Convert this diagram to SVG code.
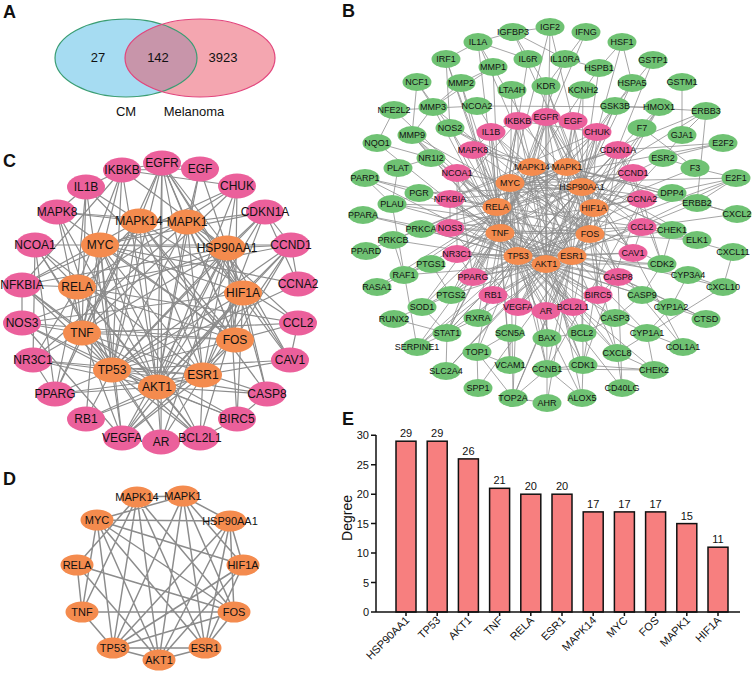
<svg xmlns="http://www.w3.org/2000/svg" width="754" height="674" viewBox="0 0 754 674">
<style>
text{font-family:"Liberation Sans",Arial,sans-serif;fill:#111}
.lbl{font-size:18px;font-weight:bold}
.n text{text-anchor:middle;dominant-baseline:central}
.B text{font-size:9px}
.C text{font-size:12px}
.D text{font-size:11px}
.g ellipse{fill:#6fc273}
.p ellipse{fill:#eb609b}
.o ellipse{fill:#f48b4e}
.eB{fill:none;stroke:#8e8e8e;stroke-width:0.8}
.eC{fill:none;stroke:#8c8c8c;stroke-width:1.2}
.eD{fill:none;stroke:#8c8c8c;stroke-width:1.5}
.vt{font-size:13px;text-anchor:middle}
.ax{fill:none;stroke:#111;stroke-width:1.5}
.bar{fill:#f77f7f;stroke:#111;stroke-width:1.5}
.tk{font-size:11px;text-anchor:end}
.vl{font-size:11px;text-anchor:middle}
</style>

<!-- Panel labels -->
<text class="lbl" x="3" y="18">A</text>
<text class="lbl" x="342" y="17">B</text>
<text class="lbl" x="3" y="167">C</text>
<text class="lbl" x="3" y="485">D</text>
<text class="lbl" x="342" y="425">E</text>

<!-- Panel A: Venn -->
<g id="venn">
<ellipse cx="126" cy="58" rx="71" ry="39" fill="#a6dcf2"/>
<ellipse cx="200" cy="58" rx="75" ry="39" fill="#e94d61" fill-opacity="0.5"/>
<ellipse cx="126" cy="58" rx="71" ry="39" fill="none" stroke="#3a9d73" stroke-width="1.2"/>
<ellipse cx="200" cy="58" rx="75" ry="39" fill="none" stroke="#e2457c" stroke-width="1.2"/>
<text class="vt" x="98" y="62">27</text>
<text class="vt" x="158" y="62">142</text>
<text class="vt" x="223" y="62">3923</text>
<text class="vt" x="126" y="116">CM</text>
<text class="vt" x="194" y="116">Melanoma</text>
</g>

<!-- Panel B connectors -->
<g id="edges-B" class="eB">
<path d="M532 167L567 167M510 183L582 187M510 183L567 167M510 183L594 208M510 183L590 234M510 183L572 256M510 183L518 256M510 183L546 264M510 183L500 233M497 207L590 234M497 207L500 233M497 207L532 167M497 207L546 264M500 233L590 234M500 233L532 167M500 233L518 256M518 256L572 256M518 256L546 264M546 264L572 256M582 187L518 256M582 187L546 264M582 187L572 256M582 187L594 208M582 187L590 234M582 187L567 167M532 167L518 256M532 167L546 264M532 167L572 256M532 167L590 234M567 167L518 256M567 167L572 256M567 167L590 234M567 167L594 208M594 208L518 256M594 208L546 264M594 208L572 256M590 234L572 256M590 234L518 256M567 167L546 264"/>
<path d="M518 256L518 121M518 256L546 117M518 256L491 132M518 256L473 150M518 256L618 150M518 256L457 173M518 256L633 173M518 256L450 199M518 256L642 199M518 256L450 228M518 256L457 254M518 256L633 253M518 256L473 277M518 256L618 277M518 256L493 295M518 256L598 295M518 256L518 307M518 256L546 311M518 256L573 307M518 256L615 106M518 256L659 107M518 256L365 178M518 256L421 229M518 256L422 307M518 256L447 333M518 256L478 318M518 256L477 352M518 256L547 338M518 256L582 333M518 256L547 369M518 256L583 365M518 256L662 264M518 256L672 230M518 256L654 370M518 256L615 318M518 256L642 295M518 256L461 83M518 256L412 135M518 256L417 347M518 256L451 295M518 256L377 143M518 256L736 178M518 256L513 398M518 256L446 59"/>
<path d="M582 187L518 121M582 187L546 117M582 187L573 121M582 187L597 132M582 187L618 150M582 187L633 173M582 187L457 254M582 187L633 253M582 187L618 277M582 187L546 311M582 187L598 295M582 187L450 228M582 187L450 199M582 187L518 307M582 187L599 68M582 187L632 83M582 187L622 42M582 187L546 86M582 187L697 203M582 187L706 111M582 187L615 106M582 187L583 90M582 187L419 193M582 187L583 365M582 187L672 230M582 187L582 333M582 187L404 275M582 187L421 229M582 187L447 333"/>
<path d="M546 264L518 121M546 264L546 117M546 264L573 121M546 264L597 132M546 264L618 150M546 264L633 173M546 264L450 228M546 264L457 254M546 264L618 277M546 264L598 295M546 264L573 307M546 264L518 307M546 264L546 311M546 264L493 295M546 264L473 277M546 264L473 150M546 264L450 199M546 264L615 106M546 264L659 107M546 264L615 318M546 264L642 295M546 264L547 338M546 264L582 333M546 264L583 365M546 264L662 264M546 264L547 369M546 264L404 275M546 264L421 229M546 264L393 240M546 264L451 295M546 264L447 333M546 264L412 135M546 264L697 203M546 264L550 27M546 264L546 86M546 264L446 371"/>
<path d="M500 233L518 121M500 233L491 132M500 233L450 199M500 233L450 228M500 233L642 227M500 233L618 277M500 233L598 295M500 233L518 307M500 233L573 307M500 233L597 132M500 233L473 277M500 233L473 150M500 233L546 117M500 233L478 42M500 233L528 59M500 233L586 32M500 233L565 59M500 233L493 67M500 233L461 83M500 233L433 107M500 233L412 135M500 233L450 128M500 233L451 295M500 233L510 365M500 233L417 347M500 233L617 353M500 233L723 287M500 233L622 388M500 233L447 333M500 233L422 307M500 233L582 398M500 233L392 204"/>
<path d="M497 207L518 121M497 207L597 132M497 207L450 199M497 207L457 173M497 207L491 132M497 207L633 173M497 207L473 277M497 207L457 254M497 207L573 307M497 207L642 227M497 207L450 128M497 207L451 295M497 207L510 365M497 207L447 333M497 207L446 59M497 207L394 110M497 207L412 135M497 207L422 307M497 207L617 353M497 207L478 318M497 207L392 204M497 207L365 178"/>
<path d="M572 256L457 173M572 256L633 173M572 256L546 117M572 256L546 311M572 256L457 254M572 256L473 277M572 256L633 253M572 256L518 307M572 256L573 307M572 256L618 150M572 256L493 295M572 256L477 106M572 256L663 158M572 256L419 193M572 256L647 333M572 256L671 307M572 256L688 275M572 256L431 158M572 256L478 318M572 256L513 398M572 256L706 319M572 256L736 178M572 256L363 215M572 256L547 403M572 256L547 369"/>
<path d="M532 167L491 132M532 167L473 150M532 167L450 199M532 167L546 117M532 167L618 277M532 167L642 227M532 167L473 277M532 167L599 68M532 167L697 240M532 167L512 90M532 167L478 42M532 167L546 86M532 167L617 353M532 167L450 128M532 167L447 333M532 167L582 398"/>
<path d="M510 183L633 173M510 183L618 150M510 183L457 173M510 183L493 295M510 183L642 199M510 183L573 307M510 183L518 307M510 183L662 264M510 183L583 365M510 183L547 369M510 183L736 178M510 183L723 143M510 183L477 352M510 183L513 398M510 183L512 90M510 183L550 27"/>
<path d="M590 234L546 117M590 234L473 150M590 234L633 173M590 234L450 228M590 234L642 227M590 234L597 132M590 234L491 132M590 234L518 307M590 234L493 67M590 234L433 107M590 234L412 135M590 234L697 240M590 234L617 353M590 234L392 204M590 234L478 388M590 234L683 347M590 234L659 107"/>
<path d="M567 167L546 117M567 167L573 121M567 167L618 150M567 167L633 253M567 167L457 254M567 167L642 227M567 167L473 150M567 167L697 240M567 167L404 275M567 167L377 287M567 167L615 106M567 167L737 214M567 167L672 193M567 167L697 203M567 167L706 111M567 167L421 229M567 167L393 240M567 167L583 90"/>
<path d="M594 208L518 307M594 208L450 228M594 208L546 117M594 208L633 173M594 208L598 295M594 208L618 277M594 208L573 307M594 208L659 107M594 208L546 86M594 208L450 128M594 208L446 371M594 208L417 347M594 208L695 168M594 208L672 193M594 208L736 178M594 208L653 60M594 208L550 27M594 208L513 32M594 208L513 398"/>
<path d="M518 121L546 117M546 117L573 121M518 121L597 132M618 150L633 173M633 173L642 199M618 277L598 295M598 295L573 307M450 228L450 199M457 254L457 173M473 277L457 173M518 121L450 199M597 132L450 199M642 227L633 253M457 254L473 277M618 150L642 199M546 117L633 253M546 311L457 173M518 307L450 228M491 132L473 150M491 132L518 121"/>
<path d="M513 32L550 27M513 32L478 42M513 32L565 59M513 32L546 86M586 32L546 86M478 42L493 67M478 42L446 59M478 42L528 59M446 59L450 128M417 82L433 107M417 82L412 135M417 82L450 128M461 83L433 107M461 83L493 67M493 67L433 107M394 110L477 106M477 106L659 107M394 110L377 143M412 135L433 107M377 143L431 158M622 42L599 68M622 42L632 83M653 60L615 106M565 59L599 68M632 83L615 106M615 106L706 111M682 82L682 135M706 111L682 135M706 111L697 203M723 143L663 158M723 143L618 150M682 135L663 158M642 128L695 168M663 158L695 168M695 168L736 178M736 178L697 203M672 193L697 203M697 203L737 214M672 230L642 227M672 230L662 264M733 252L723 287M723 287L688 275M688 275L671 307M671 307L706 319M671 307L642 295M662 264L642 295M723 287L617 353M647 333L683 347M647 333L671 307M615 318L647 333M615 318L642 295M615 318L582 333M654 370L583 365M654 370L547 369M617 353L622 388M582 333L547 338M583 365L547 369M547 369L513 398M547 369L547 403M547 369L582 398M583 365L582 398M510 365L510 333M477 352L478 388M477 352L510 365M477 352L513 398M477 352L510 333M447 333L478 318M447 333L394 319M447 333L417 347M447 333L446 371M447 333L422 307M394 319L422 307M422 307L451 295M431 264L451 295M404 275L431 264M377 287L404 275M404 275L393 240M393 240L421 229M366 251L393 240M363 215L421 229M365 178L419 193M365 178L392 204M392 204L419 193M398 168L392 204M398 168L431 158M417 347L392 204M654 370L647 333M617 353L654 370M513 398L547 403M663 158L633 173M642 199L662 264M642 199L583 365M618 150L662 264M618 150L583 365M642 199L547 369M683 347L633 253M697 240L642 227M737 214L642 227M733 252L642 227M706 319L618 277M622 388L618 277"/>
</g>

<!-- Panel B nodes -->
<g class="B">
<g id="b-IGFBP3" class="n g"><ellipse cx="513" cy="32" rx="14.5" ry="9"/><text x="513" y="32">IGFBP3</text></g>
<g id="b-IGF2" class="n g"><ellipse cx="550" cy="27" rx="14.5" ry="9"/><text x="550" y="27">IGF2</text></g>
<g id="b-IFNG" class="n g"><ellipse cx="586" cy="32" rx="14.5" ry="9"/><text x="586" y="32">IFNG</text></g>
<g id="b-HSF1" class="n g"><ellipse cx="622" cy="42" rx="14.5" ry="9"/><text x="622" y="42">HSF1</text></g>
<g id="b-IL1A" class="n g"><ellipse cx="478" cy="42" rx="14.5" ry="9"/><text x="478" y="42">IL1A</text></g>
<g id="b-IL6R" class="n g"><ellipse cx="528" cy="59" rx="14.5" ry="9"/><text x="528" y="59">IL6R</text></g>
<g id="b-IL10RA" class="n g"><ellipse cx="565" cy="59" rx="14.5" ry="9"/><text x="565" y="59">IL10RA</text></g>
<g id="b-GSTP1" class="n g"><ellipse cx="653" cy="60" rx="14.5" ry="9"/><text x="653" y="60">GSTP1</text></g>
<g id="b-IRF1" class="n g"><ellipse cx="446" cy="59" rx="14.5" ry="9"/><text x="446" y="59">IRF1</text></g>
<g id="b-MMP1" class="n g"><ellipse cx="493" cy="67" rx="14.5" ry="9"/><text x="493" y="67">MMP1</text></g>
<g id="b-HSPB1" class="n g"><ellipse cx="599" cy="68" rx="14.5" ry="9"/><text x="599" y="68">HSPB1</text></g>
<g id="b-NCF1" class="n g"><ellipse cx="417" cy="82" rx="14.5" ry="9"/><text x="417" y="82">NCF1</text></g>
<g id="b-MMP2" class="n g"><ellipse cx="461" cy="83" rx="14.5" ry="9"/><text x="461" y="83">MMP2</text></g>
<g id="b-GSTM1" class="n g"><ellipse cx="682" cy="82" rx="14.5" ry="9"/><text x="682" y="82">GSTM1</text></g>
<g id="b-HSPA5" class="n g"><ellipse cx="632" cy="83" rx="14.5" ry="9"/><text x="632" y="83">HSPA5</text></g>
<g id="b-KDR" class="n g"><ellipse cx="546" cy="86" rx="14.5" ry="9"/><text x="546" y="86">KDR</text></g>
<g id="b-LTA4H" class="n g"><ellipse cx="512" cy="90" rx="14.5" ry="9"/><text x="512" y="90">LTA4H</text></g>
<g id="b-KCNH2" class="n g"><ellipse cx="583" cy="90" rx="14.5" ry="9"/><text x="583" y="90">KCNH2</text></g>
<g id="b-NCOA2" class="n g"><ellipse cx="477" cy="106" rx="14.5" ry="9"/><text x="477" y="106">NCOA2</text></g>
<g id="b-MMP3" class="n g"><ellipse cx="433" cy="107" rx="14.5" ry="9"/><text x="433" y="107">MMP3</text></g>
<g id="b-GSK3B" class="n g"><ellipse cx="615" cy="106" rx="14.5" ry="9"/><text x="615" y="106">GSK3B</text></g>
<g id="b-HMOX1" class="n g"><ellipse cx="659" cy="107" rx="14.5" ry="9"/><text x="659" y="107">HMOX1</text></g>
<g id="b-NFE2L2" class="n g"><ellipse cx="394" cy="110" rx="14.5" ry="9"/><text x="394" y="110">NFE2L2</text></g>
<g id="b-ERBB3" class="n g"><ellipse cx="706" cy="111" rx="14.5" ry="9"/><text x="706" y="111">ERBB3</text></g>
<g id="b-F7" class="n g"><ellipse cx="642" cy="128" rx="14.5" ry="9"/><text x="642" y="128">F7</text></g>
<g id="b-NOS2" class="n g"><ellipse cx="450" cy="128" rx="14.5" ry="9"/><text x="450" y="128">NOS2</text></g>
<g id="b-GJA1" class="n g"><ellipse cx="682" cy="135" rx="14.5" ry="9"/><text x="682" y="135">GJA1</text></g>
<g id="b-MMP9" class="n g"><ellipse cx="412" cy="135" rx="14.5" ry="9"/><text x="412" y="135">MMP9</text></g>
<g id="b-NQO1" class="n g"><ellipse cx="377" cy="143" rx="14.5" ry="9"/><text x="377" y="143">NQO1</text></g>
<g id="b-E2F2" class="n g"><ellipse cx="723" cy="143" rx="14.5" ry="9"/><text x="723" y="143">E2F2</text></g>
<g id="b-ESR2" class="n g"><ellipse cx="663" cy="158" rx="14.5" ry="9"/><text x="663" y="158">ESR2</text></g>
<g id="b-NR1I2" class="n g"><ellipse cx="431" cy="158" rx="14.5" ry="9"/><text x="431" y="158">NR1I2</text></g>
<g id="b-F3" class="n g"><ellipse cx="695" cy="168" rx="14.5" ry="9"/><text x="695" y="168">F3</text></g>
<g id="b-PLAT" class="n g"><ellipse cx="398" cy="168" rx="14.5" ry="9"/><text x="398" y="168">PLAT</text></g>
<g id="b-PARP1" class="n g"><ellipse cx="365" cy="178" rx="14.5" ry="9"/><text x="365" y="178">PARP1</text></g>
<g id="b-E2F1" class="n g"><ellipse cx="736" cy="178" rx="14.5" ry="9"/><text x="736" y="178">E2F1</text></g>
<g id="b-PGR" class="n g"><ellipse cx="419" cy="193" rx="14.5" ry="9"/><text x="419" y="193">PGR</text></g>
<g id="b-DPP4" class="n g"><ellipse cx="672" cy="193" rx="14.5" ry="9"/><text x="672" y="193">DPP4</text></g>
<g id="b-ERBB2" class="n g"><ellipse cx="697" cy="203" rx="14.5" ry="9"/><text x="697" y="203">ERBB2</text></g>
<g id="b-PLAU" class="n g"><ellipse cx="392" cy="204" rx="14.5" ry="9"/><text x="392" y="204">PLAU</text></g>
<g id="b-CXCL2" class="n g"><ellipse cx="737" cy="214" rx="14.5" ry="9"/><text x="737" y="214">CXCL2</text></g>
<g id="b-PPARA" class="n g"><ellipse cx="363" cy="215" rx="14.5" ry="9"/><text x="363" y="215">PPARA</text></g>
<g id="b-PRKCA" class="n g"><ellipse cx="421" cy="229" rx="14.5" ry="9"/><text x="421" y="229">PRKCA</text></g>
<g id="b-CHEK1" class="n g"><ellipse cx="672" cy="230" rx="14.5" ry="9"/><text x="672" y="230">CHEK1</text></g>
<g id="b-ELK1" class="n g"><ellipse cx="697" cy="240" rx="14.5" ry="9"/><text x="697" y="240">ELK1</text></g>
<g id="b-PRKCB" class="n g"><ellipse cx="393" cy="240" rx="14.5" ry="9"/><text x="393" y="240">PRKCB</text></g>
<g id="b-PPARD" class="n g"><ellipse cx="366" cy="251" rx="14.5" ry="9"/><text x="366" y="251">PPARD</text></g>
<g id="b-CXCL11" class="n g"><ellipse cx="733" cy="252" rx="14.5" ry="9"/><text x="733" y="252">CXCL11</text></g>
<g id="b-PTGS1" class="n g"><ellipse cx="431" cy="264" rx="14.5" ry="9"/><text x="431" y="264">PTGS1</text></g>
<g id="b-CDK2" class="n g"><ellipse cx="662" cy="264" rx="14.5" ry="9"/><text x="662" y="264">CDK2</text></g>
<g id="b-RAF1" class="n g"><ellipse cx="404" cy="275" rx="14.5" ry="9"/><text x="404" y="275">RAF1</text></g>
<g id="b-CYP3A4" class="n g"><ellipse cx="688" cy="275" rx="14.5" ry="9"/><text x="688" y="275">CYP3A4</text></g>
<g id="b-RASA1" class="n g"><ellipse cx="377" cy="287" rx="14.5" ry="9"/><text x="377" y="287">RASA1</text></g>
<g id="b-CXCL10" class="n g"><ellipse cx="723" cy="287" rx="14.5" ry="9"/><text x="723" y="287">CXCL10</text></g>
<g id="b-PTGS2" class="n g"><ellipse cx="451" cy="295" rx="14.5" ry="9"/><text x="451" y="295">PTGS2</text></g>
<g id="b-CASP9" class="n g"><ellipse cx="642" cy="295" rx="14.5" ry="9"/><text x="642" y="295">CASP9</text></g>
<g id="b-SOD1" class="n g"><ellipse cx="422" cy="307" rx="14.5" ry="9"/><text x="422" y="307">SOD1</text></g>
<g id="b-CYP1A2" class="n g"><ellipse cx="671" cy="307" rx="14.5" ry="9"/><text x="671" y="307">CYP1A2</text></g>
<g id="b-RUNX2" class="n g"><ellipse cx="394" cy="319" rx="14.5" ry="9"/><text x="394" y="319">RUNX2</text></g>
<g id="b-RXRA" class="n g"><ellipse cx="478" cy="318" rx="14.5" ry="9"/><text x="478" y="318">RXRA</text></g>
<g id="b-CASP3" class="n g"><ellipse cx="615" cy="318" rx="14.5" ry="9"/><text x="615" y="318">CASP3</text></g>
<g id="b-CTSD" class="n g"><ellipse cx="706" cy="319" rx="14.5" ry="9"/><text x="706" y="319">CTSD</text></g>
<g id="b-STAT1" class="n g"><ellipse cx="447" cy="333" rx="14.5" ry="9"/><text x="447" y="333">STAT1</text></g>
<g id="b-SCN5A" class="n g"><ellipse cx="510" cy="333" rx="14.5" ry="9"/><text x="510" y="333">SCN5A</text></g>
<g id="b-BAX" class="n g"><ellipse cx="547" cy="338" rx="14.5" ry="9"/><text x="547" y="338">BAX</text></g>
<g id="b-BCL2" class="n g"><ellipse cx="582" cy="333" rx="14.5" ry="9"/><text x="582" y="333">BCL2</text></g>
<g id="b-CYP1A1" class="n g"><ellipse cx="647" cy="333" rx="14.5" ry="9"/><text x="647" y="333">CYP1A1</text></g>
<g id="b-SERPINE1" class="n g"><ellipse cx="417" cy="347" rx="14.5" ry="9"/><text x="417" y="347">SERPINE1</text></g>
<g id="b-COL1A1" class="n g"><ellipse cx="683" cy="347" rx="14.5" ry="9"/><text x="683" y="347">COL1A1</text></g>
<g id="b-TOP1" class="n g"><ellipse cx="477" cy="352" rx="14.5" ry="9"/><text x="477" y="352">TOP1</text></g>
<g id="b-CXCL8" class="n g"><ellipse cx="617" cy="353" rx="14.5" ry="9"/><text x="617" y="353">CXCL8</text></g>
<g id="b-VCAM1" class="n g"><ellipse cx="510" cy="365" rx="14.5" ry="9"/><text x="510" y="365">VCAM1</text></g>
<g id="b-CCNB1" class="n g"><ellipse cx="547" cy="369" rx="14.5" ry="9"/><text x="547" y="369">CCNB1</text></g>
<g id="b-CDK1" class="n g"><ellipse cx="583" cy="365" rx="14.5" ry="9"/><text x="583" y="365">CDK1</text></g>
<g id="b-CHEK2" class="n g"><ellipse cx="654" cy="370" rx="14.5" ry="9"/><text x="654" y="370">CHEK2</text></g>
<g id="b-SLC2A4" class="n g"><ellipse cx="446" cy="371" rx="14.5" ry="9"/><text x="446" y="371">SLC2A4</text></g>
<g id="b-SPP1" class="n g"><ellipse cx="478" cy="388" rx="14.5" ry="9"/><text x="478" y="388">SPP1</text></g>
<g id="b-CD40LG" class="n g"><ellipse cx="622" cy="388" rx="14.5" ry="9"/><text x="622" y="388">CD40LG</text></g>
<g id="b-TOP2A" class="n g"><ellipse cx="513" cy="398" rx="14.5" ry="9"/><text x="513" y="398">TOP2A</text></g>
<g id="b-AHR" class="n g"><ellipse cx="547" cy="403" rx="14.5" ry="9"/><text x="547" y="403">AHR</text></g>
<g id="b-ALOX5" class="n g"><ellipse cx="582" cy="398" rx="14.5" ry="9"/><text x="582" y="398">ALOX5</text></g>

<g id="b-IKBKB" class="n p"><ellipse cx="518" cy="121" rx="14.5" ry="9"/><text x="518" y="121">IKBKB</text></g>
<g id="b-EGFR" class="n p"><ellipse cx="546" cy="117" rx="14.5" ry="9"/><text x="546" y="117">EGFR</text></g>
<g id="b-EGF" class="n p"><ellipse cx="573" cy="121" rx="14.5" ry="9"/><text x="573" y="121">EGF</text></g>
<g id="b-IL1B" class="n p"><ellipse cx="491" cy="132" rx="14.5" ry="9"/><text x="491" y="132">IL1B</text></g>
<g id="b-CHUK" class="n p"><ellipse cx="597" cy="132" rx="14.5" ry="9"/><text x="597" y="132">CHUK</text></g>
<g id="b-MAPK8" class="n p"><ellipse cx="473" cy="150" rx="14.5" ry="9"/><text x="473" y="150">MAPK8</text></g>
<g id="b-CDKN1A" class="n p"><ellipse cx="618" cy="150" rx="14.5" ry="9"/><text x="618" y="150">CDKN1A</text></g>
<g id="b-NCOA1" class="n p"><ellipse cx="457" cy="173" rx="14.5" ry="9"/><text x="457" y="173">NCOA1</text></g>
<g id="b-CCND1" class="n p"><ellipse cx="633" cy="173" rx="14.5" ry="9"/><text x="633" y="173">CCND1</text></g>
<g id="b-NFKBIA" class="n p"><ellipse cx="450" cy="199" rx="14.5" ry="9"/><text x="450" y="199">NFKBIA</text></g>
<g id="b-CCNA2" class="n p"><ellipse cx="642" cy="199" rx="14.5" ry="9"/><text x="642" y="199">CCNA2</text></g>
<g id="b-NOS3" class="n p"><ellipse cx="450" cy="228" rx="14.5" ry="9"/><text x="450" y="228">NOS3</text></g>
<g id="b-CCL2" class="n p"><ellipse cx="642" cy="227" rx="14.5" ry="9"/><text x="642" y="227">CCL2</text></g>
<g id="b-NR3C1" class="n p"><ellipse cx="457" cy="254" rx="14.5" ry="9"/><text x="457" y="254">NR3C1</text></g>
<g id="b-CAV1" class="n p"><ellipse cx="633" cy="253" rx="14.5" ry="9"/><text x="633" y="253">CAV1</text></g>
<g id="b-PPARG" class="n p"><ellipse cx="473" cy="277" rx="14.5" ry="9"/><text x="473" y="277">PPARG</text></g>
<g id="b-CASP8" class="n p"><ellipse cx="618" cy="277" rx="14.5" ry="9"/><text x="618" y="277">CASP8</text></g>
<g id="b-RB1" class="n p"><ellipse cx="493" cy="295" rx="14.5" ry="9"/><text x="493" y="295">RB1</text></g>
<g id="b-BIRC5" class="n p"><ellipse cx="598" cy="295" rx="14.5" ry="9"/><text x="598" y="295">BIRC5</text></g>
<g id="b-VEGFA" class="n p"><ellipse cx="518" cy="307" rx="14.5" ry="9"/><text x="518" y="307">VEGFA</text></g>
<g id="b-AR" class="n p"><ellipse cx="546" cy="311" rx="14.5" ry="9"/><text x="546" y="311">AR</text></g>
<g id="b-BCL2L1" class="n p"><ellipse cx="573" cy="307" rx="14.5" ry="9"/><text x="573" y="307">BCL2L1</text></g>

<g id="b-MAPK14" class="n o"><ellipse cx="532" cy="167" rx="14.5" ry="9"/><text x="532" y="167">MAPK14</text></g>
<g id="b-MAPK1" class="n o"><ellipse cx="567" cy="167" rx="14.5" ry="9"/><text x="567" y="167">MAPK1</text></g>
<g id="b-MYC" class="n o"><ellipse cx="510" cy="183" rx="14.5" ry="9"/><text x="510" y="183">MYC</text></g>
<g id="b-HSP90AA1" class="n o"><ellipse cx="582" cy="187" rx="14.5" ry="9"/><text x="582" y="187">HSP90AA1</text></g>
<g id="b-RELA" class="n o"><ellipse cx="497" cy="207" rx="14.5" ry="9"/><text x="497" y="207">RELA</text></g>
<g id="b-HIF1A" class="n o"><ellipse cx="594" cy="208" rx="14.5" ry="9"/><text x="594" y="208">HIF1A</text></g>
<g id="b-TNF" class="n o"><ellipse cx="500" cy="233" rx="14.5" ry="9"/><text x="500" y="233">TNF</text></g>
<g id="b-FOS" class="n o"><ellipse cx="590" cy="234" rx="14.5" ry="9"/><text x="590" y="234">FOS</text></g>
<g id="b-TP53" class="n o"><ellipse cx="518" cy="256" rx="14.5" ry="9"/><text x="518" y="256">TP53</text></g>
<g id="b-ESR1" class="n o"><ellipse cx="572" cy="256" rx="14.5" ry="9"/><text x="572" y="256">ESR1</text></g>
<g id="b-AKT1" class="n o"><ellipse cx="546" cy="264" rx="14.5" ry="9"/><text x="546" y="264">AKT1</text></g>
</g>

<!-- Panel C connectors -->
<g id="edges-C" class="eC">
<path d="M139 221L187 222M100 245L227 248M100 245L187 222M100 245L243 293M100 245L235 340M100 245L203 375M100 245L112 370M100 245L157 387M100 245L82 333M77 287L235 340M77 287L82 333M77 287L139 221M77 287L157 387M82 333L235 340M82 333L139 221M82 333L112 370M112 370L203 375M112 370L157 387M157 387L203 375M227 248L112 370M227 248L157 387M227 248L203 375M227 248L243 293M227 248L235 340M227 248L187 222M139 221L112 370M139 221L157 387M139 221L203 375M139 221L235 340M187 222L112 370M187 222L203 375M187 222L235 340M187 222L243 293M243 293L112 370M243 293L157 387M243 293L203 375M235 340L203 375M235 340L112 370M187 222L157 387"/>
<path d="M112 370L122 170M112 370L162 163M112 370L86 187M112 370L57 212M112 370L265 212M112 370L35 245M112 370L291 245M112 370L22 285M112 370L298 284M112 370L22 323M112 370L33 360M112 370L290 360M112 370L55 394M112 370L267 394M112 370L86 419M112 370L237 419M112 370L122 438M112 370L161 442M112 370L200 438"/>
<path d="M227 248L122 170M227 248L162 163M227 248L200 169M227 248L237 186M227 248L265 212M227 248L291 245M227 248L33 360M227 248L290 360M227 248L267 394M227 248L161 442M227 248L237 419M227 248L22 323M227 248L22 285M227 248L122 438"/>
<path d="M157 387L122 170M157 387L162 163M157 387L200 169M157 387L237 186M157 387L265 212M157 387L291 245M157 387L22 323M157 387L33 360M157 387L267 394M157 387L237 419M157 387L200 438M157 387L122 438M157 387L161 442M157 387L86 419M157 387L55 394M157 387L57 212M157 387L22 285"/>
<path d="M82 333L122 170M82 333L86 187M82 333L22 285M82 333L22 323M82 333L298 323M82 333L267 394M82 333L237 419M82 333L122 438M82 333L200 438M82 333L237 186M82 333L55 394M82 333L57 212M82 333L162 163"/>
<path d="M77 287L122 170M77 287L237 186M77 287L22 285M77 287L35 245M77 287L86 187M77 287L291 245M77 287L55 394M77 287L33 360M77 287L200 438M77 287L298 323"/>
<path d="M203 375L35 245M203 375L291 245M203 375L162 163M203 375L161 442M203 375L33 360M203 375L55 394M203 375L290 360M203 375L122 438M203 375L200 438M203 375L265 212M203 375L86 419"/>
<path d="M139 221L86 187M139 221L57 212M139 221L22 285M139 221L162 163M139 221L267 394M139 221L298 323M139 221L55 394"/>
<path d="M100 245L291 245M100 245L265 212M100 245L35 245M100 245L86 419M100 245L298 284M100 245L200 438M100 245L122 438"/>
<path d="M235 340L162 163M235 340L57 212M235 340L291 245M235 340L22 323M235 340L298 323M235 340L237 186M235 340L86 187M235 340L122 438"/>
<path d="M187 222L162 163M187 222L200 169M187 222L265 212M187 222L290 360M187 222L33 360M187 222L298 323M187 222L57 212"/>
<path d="M243 293L122 438M243 293L22 323M243 293L162 163M243 293L291 245M243 293L237 419M243 293L267 394M243 293L200 438"/>
<path d="M122 170L162 163M162 163L200 169M122 170L200 169M122 170L237 186M265 212L291 245M291 245L298 284M265 212L298 284M267 394L237 419M237 419L200 438M22 323L22 285M33 360L35 245M55 394L35 245M122 170L22 285M237 186L22 285M298 323L290 360M33 360L55 394M162 163L290 360M161 442L35 245M122 438L22 323M86 187L57 212M86 187L122 170M162 163L161 442"/>
</g>

<!-- Panel C nodes -->
<g class="C">
<g id="c-IKBKB" class="n p"><ellipse cx="122" cy="170" rx="19" ry="12.5"/><text x="122" y="170">IKBKB</text></g>
<g id="c-EGFR" class="n p"><ellipse cx="162" cy="163" rx="19" ry="12.5"/><text x="162" y="163">EGFR</text></g>
<g id="c-EGF" class="n p"><ellipse cx="200" cy="169" rx="19" ry="12.5"/><text x="200" y="169">EGF</text></g>
<g id="c-IL1B" class="n p"><ellipse cx="86" cy="187" rx="19" ry="12.5"/><text x="86" y="187">IL1B</text></g>
<g id="c-CHUK" class="n p"><ellipse cx="237" cy="186" rx="19" ry="12.5"/><text x="237" y="186">CHUK</text></g>
<g id="c-MAPK8" class="n p"><ellipse cx="57" cy="212" rx="19" ry="12.5"/><text x="57" y="212">MAPK8</text></g>
<g id="c-CDKN1A" class="n p"><ellipse cx="265" cy="212" rx="19" ry="12.5"/><text x="265" y="212">CDKN1A</text></g>
<g id="c-NCOA1" class="n p"><ellipse cx="35" cy="245" rx="19" ry="12.5"/><text x="35" y="245">NCOA1</text></g>
<g id="c-CCND1" class="n p"><ellipse cx="291" cy="245" rx="19" ry="12.5"/><text x="291" y="245">CCND1</text></g>
<g id="c-NFKBIA" class="n p"><ellipse cx="22" cy="285" rx="19" ry="12.5"/><text x="22" y="285">NFKBIA</text></g>
<g id="c-CCNA2" class="n p"><ellipse cx="298" cy="284" rx="19" ry="12.5"/><text x="298" y="284">CCNA2</text></g>
<g id="c-NOS3" class="n p"><ellipse cx="22" cy="323" rx="19" ry="12.5"/><text x="22" y="323">NOS3</text></g>
<g id="c-CCL2" class="n p"><ellipse cx="298" cy="323" rx="19" ry="12.5"/><text x="298" y="323">CCL2</text></g>
<g id="c-NR3C1" class="n p"><ellipse cx="33" cy="360" rx="19" ry="12.5"/><text x="33" y="360">NR3C1</text></g>
<g id="c-CAV1" class="n p"><ellipse cx="290" cy="360" rx="19" ry="12.5"/><text x="290" y="360">CAV1</text></g>
<g id="c-PPARG" class="n p"><ellipse cx="55" cy="394" rx="19" ry="12.5"/><text x="55" y="394">PPARG</text></g>
<g id="c-CASP8" class="n p"><ellipse cx="267" cy="394" rx="19" ry="12.5"/><text x="267" y="394">CASP8</text></g>
<g id="c-RB1" class="n p"><ellipse cx="86" cy="419" rx="19" ry="12.5"/><text x="86" y="419">RB1</text></g>
<g id="c-BIRC5" class="n p"><ellipse cx="237" cy="419" rx="19" ry="12.5"/><text x="237" y="419">BIRC5</text></g>
<g id="c-VEGFA" class="n p"><ellipse cx="122" cy="438" rx="19" ry="12.5"/><text x="122" y="438">VEGFA</text></g>
<g id="c-AR" class="n p"><ellipse cx="161" cy="442" rx="19" ry="12.5"/><text x="161" y="442">AR</text></g>
<g id="c-BCL2L1" class="n p"><ellipse cx="200" cy="438" rx="19" ry="12.5"/><text x="200" y="438">BCL2L1</text></g>
<g id="c-MAPK14" class="n o"><ellipse cx="139" cy="221" rx="19" ry="12.5"/><text x="139" y="221">MAPK14</text></g>
<g id="c-MAPK1" class="n o"><ellipse cx="187" cy="222" rx="19" ry="12.5"/><text x="187" y="222">MAPK1</text></g>
<g id="c-MYC" class="n o"><ellipse cx="100" cy="245" rx="19" ry="12.5"/><text x="100" y="245">MYC</text></g>
<g id="c-HSP90AA1" class="n o"><ellipse cx="227" cy="248" rx="19" ry="12.5"/><text x="227" y="248">HSP90AA1</text></g>
<g id="c-RELA" class="n o"><ellipse cx="77" cy="287" rx="19" ry="12.5"/><text x="77" y="287">RELA</text></g>
<g id="c-HIF1A" class="n o"><ellipse cx="243" cy="293" rx="19" ry="12.5"/><text x="243" y="293">HIF1A</text></g>
<g id="c-TNF" class="n o"><ellipse cx="82" cy="333" rx="19" ry="12.5"/><text x="82" y="333">TNF</text></g>
<g id="c-FOS" class="n o"><ellipse cx="235" cy="340" rx="19" ry="12.5"/><text x="235" y="340">FOS</text></g>
<g id="c-TP53" class="n o"><ellipse cx="112" cy="370" rx="19" ry="12.5"/><text x="112" y="370">TP53</text></g>
<g id="c-ESR1" class="n o"><ellipse cx="203" cy="375" rx="19" ry="12.5"/><text x="203" y="375">ESR1</text></g>
<g id="c-AKT1" class="n o"><ellipse cx="157" cy="387" rx="19" ry="12.5"/><text x="157" y="387">AKT1</text></g>
</g>

<!-- Panel D connectors -->
<g id="edges-D" class="eD">
<path d="M137 497L183 496M97 520L230 521M97 520L183 496M97 520L243 565M97 520L234 612M97 520L205 648M97 520L113 648M97 520L159 660M97 520L82 612M77 565L234 612M77 565L82 612M77 565L137 497M77 565L159 660M82 612L234 612M82 612L137 497M82 612L113 648M113 648L205 648M113 648L159 660M159 660L205 648M230 521L113 648M230 521L159 660M230 521L205 648M230 521L243 565M230 521L234 612M230 521L183 496M137 497L113 648M137 497L159 660M137 497L205 648M137 497L234 612M183 496L113 648M183 496L205 648M183 496L234 612M183 496L243 565M243 565L113 648M243 565L159 660M243 565L205 648M234 612L205 648M234 612L113 648M183 496L159 660"/>
</g>

<!-- Panel D nodes -->
<g class="D">
<g id="d-MAPK14" class="n o"><ellipse cx="137" cy="497" rx="16.5" ry="10.5"/><text x="137" y="497">MAPK14</text></g>
<g id="d-MAPK1" class="n o"><ellipse cx="183" cy="496" rx="16.5" ry="10.5"/><text x="183" y="496">MAPK1</text></g>
<g id="d-MYC" class="n o"><ellipse cx="97" cy="520" rx="16.5" ry="10.5"/><text x="97" y="520">MYC</text></g>
<g id="d-HSP90AA1" class="n o"><ellipse cx="230" cy="521" rx="16.5" ry="10.5"/><text x="230" y="521">HSP90AA1</text></g>
<g id="d-RELA" class="n o"><ellipse cx="77" cy="565" rx="16.5" ry="10.5"/><text x="77" y="565">RELA</text></g>
<g id="d-HIF1A" class="n o"><ellipse cx="243" cy="565" rx="16.5" ry="10.5"/><text x="243" y="565">HIF1A</text></g>
<g id="d-TNF" class="n o"><ellipse cx="82" cy="612" rx="16.5" ry="10.5"/><text x="82" y="612">TNF</text></g>
<g id="d-FOS" class="n o"><ellipse cx="234" cy="612" rx="16.5" ry="10.5"/><text x="234" y="612">FOS</text></g>
<g id="d-TP53" class="n o"><ellipse cx="113" cy="648" rx="16.5" ry="10.5"/><text x="113" y="648">TP53</text></g>
<g id="d-ESR1" class="n o"><ellipse cx="205" cy="648" rx="16.5" ry="10.5"/><text x="205" y="648">ESR1</text></g>
<g id="d-AKT1" class="n o"><ellipse cx="159" cy="660" rx="16.5" ry="10.5"/><text x="159" y="660">AKT1</text></g>
</g>

<!-- Panel E: bar chart -->
<g id="chart">
<rect class="bar" x="396" y="441.2" width="20" height="170.8"/>
<rect class="bar" x="427.2" y="441.2" width="20" height="170.8"/>
<rect class="bar" x="458.4" y="458.9" width="20" height="153.1"/>
<rect class="bar" x="489.6" y="488.3" width="20" height="123.7"/>
<rect class="bar" x="520.8" y="494.2" width="20" height="117.8"/>
<rect class="bar" x="552" y="494.2" width="20" height="117.8"/>
<rect class="bar" x="583.2" y="511.9" width="20" height="100.1"/>
<rect class="bar" x="614.4" y="511.9" width="20" height="100.1"/>
<rect class="bar" x="645.6" y="511.9" width="20" height="100.1"/>
<rect class="bar" x="676.8" y="523.6" width="20" height="88.4"/>
<rect class="bar" x="708" y="547.2" width="20" height="64.8"/>
<path class="ax" d="M376 435V612H740M371 612H376M371 582.5H376M371 553.1H376M371 523.6H376M371 494.2H376M371 464.7H376M371 435.3H376M406 612V616M437.2 612V616M468.4 612V616M499.6 612V616M530.8 612V616M562 612V616M593.2 612V616M624.4 612V616M655.6 612V616M686.8 612V616M718 612V616"/>
<text class="tk" x="369" y="616">0</text>
<text class="tk" x="369" y="586.5">5</text>
<text class="tk" x="369" y="557.1">10</text>
<text class="tk" x="369" y="527.6">15</text>
<text class="tk" x="369" y="498.2">20</text>
<text class="tk" x="369" y="468.7">25</text>
<text class="tk" x="369" y="439.3">30</text>
<text x="352" y="518" font-size="14" text-anchor="middle" transform="rotate(-90 352 518)">Degree</text>
<text class="vl" x="406" y="437">29</text>
<text class="vl" x="437.2" y="437">29</text>
<text class="vl" x="468.4" y="455">26</text>
<text class="vl" x="499.6" y="484">21</text>
<text class="vl" x="530.8" y="490">20</text>
<text class="vl" x="562" y="490">20</text>
<text class="vl" x="593.2" y="508">17</text>
<text class="vl" x="624.4" y="508">17</text>
<text class="vl" x="655.6" y="508">17</text>
<text class="vl" x="686.8" y="520">15</text>
<text class="vl" x="718" y="543">11</text>
<text class="tk" x="410" y="621" transform="rotate(-45 410 621)">HSP90AA1</text>
<text class="tk" x="441.2" y="621" transform="rotate(-45 441.2 621)">TP53</text>
<text class="tk" x="472.4" y="621" transform="rotate(-45 472.4 621)">AKT1</text>
<text class="tk" x="503.6" y="621" transform="rotate(-45 503.6 621)">TNF</text>
<text class="tk" x="534.8" y="621" transform="rotate(-45 534.8 621)">RELA</text>
<text class="tk" x="566" y="621" transform="rotate(-45 566 621)">ESR1</text>
<text class="tk" x="597.2" y="621" transform="rotate(-45 597.2 621)">MAPK14</text>
<text class="tk" x="628.4" y="621" transform="rotate(-45 628.4 621)">MYC</text>
<text class="tk" x="659.6" y="621" transform="rotate(-45 659.6 621)">FOS</text>
<text class="tk" x="690.8" y="621" transform="rotate(-45 690.8 621)">MAPK1</text>
<text class="tk" x="722" y="621" transform="rotate(-45 722 621)">HIF1A</text>
</g>
</svg>
